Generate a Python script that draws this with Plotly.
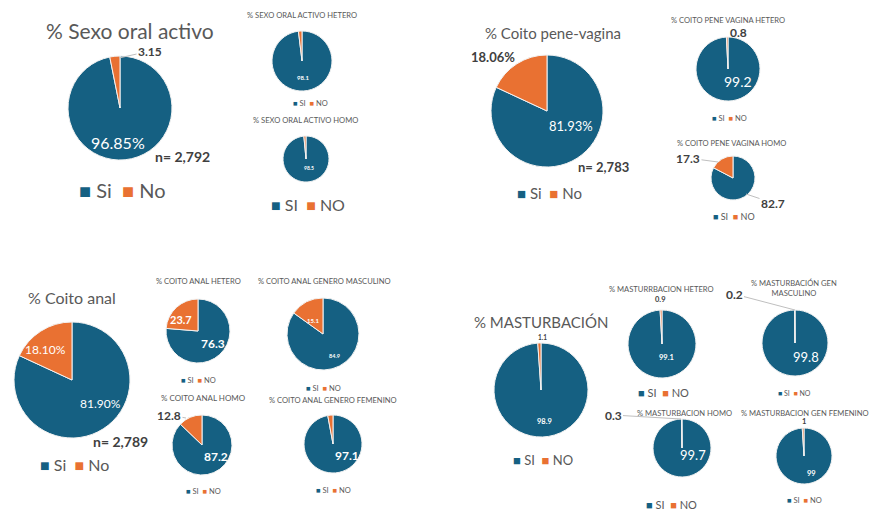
import plotly.graph_objects as go

W, H = 872, 510
BLUE = "#156082"
ORANGE = "#E97132"
GRAY = "#595959"
DARK = "#404040"
FONT = "Lato"
ST = 7.6  # small title size

# ---------------- data ----------------
lab_big = ["Si", "No"]
lab_caps = ["SI", "NO"]

sexo_oral = [96.85, 3.15]
sexo_oral_hetero = [98.1, 1.9]
sexo_oral_homo = [98.5, 1.5]
n_sexo_oral = 2792

coito_pv = [81.93, 18.06]
coito_pv_hetero = [99.2, 0.8]
coito_pv_homo = [82.7, 17.3]
n_coito_pv = 2783

coito_anal = [81.90, 18.10]
anal_hetero = [76.3, 23.7]
anal_masc = [84.9, 15.1]
anal_homo = [87.2, 12.8]
anal_fem = [97.1, 2.9]
n_coito_anal = 2789

mast = [98.9, 1.1]
mast_hetero = [99.1, 0.9]
mast_masc = [99.8, 0.2]
mast_homo = [99.7, 0.3]
mast_fem = [99.0, 1.0]

fig = go.Figure()
ann = []


def px(x):
    return x / W


def py(y):
    return 1 - y / H


def add_pie(values, labels, cx, cy, r):
    fig.add_trace(go.Pie(
        values=values, labels=labels, sort=False, direction="clockwise",
        rotation=0, textinfo="none", hoverinfo="label+value",
        marker=dict(colors=[BLUE, ORANGE], line=dict(color="#f2f2f2", width=1)),
        domain=dict(x=[px(cx - r), px(cx + r)], y=[py(cy + r), py(cy - r)]),
        showlegend=False,
    ))


def text(t, x, y, size, color=GRAY, bold=False, tip=None):
    if bold:
        t = "<b>" + t + "</b>"
    d = dict(text=t, xref="paper", yref="paper", xanchor="center",
             yanchor="middle", font=dict(size=size, color=color, family=FONT))
    if tip is None:
        d.update(x=px(x), y=py(y), showarrow=False)
    else:
        d.update(x=px(tip[0]), y=py(tip[1]), showarrow=True, arrowhead=0,
                 arrowwidth=1, arrowcolor="#bfbfbf", ax=x - tip[0], ay=y - tip[1],
                 standoff=0, startstandoff=0)
    ann.append(d)


def legend(labels, x, y, size):
    t = (f"<span style='color:{BLUE}'>■</span> {labels[0]}  "
         f"<span style='color:{ORANGE}'>■</span> {labels[1]}")
    text(t, x, y, size)


def fmt(v, pct=False, dec=None):
    s = f"{v:.{dec}f}" if dec is not None else f"{v:g}"
    return s + ("%" if pct else "")


# ---------------- panel 1: sexo oral activo ----------------
text("% Sexo oral activo", 130, 30, 21)
add_pie(sexo_oral, lab_big, 120, 108, 52)
text(fmt(sexo_oral[1], dec=2), 150, 51, 12, DARK, True, tip=(119, 58))
text(fmt(sexo_oral[0], True, 2), 118, 142, 16, "white")
text(f"n= {n_sexo_oral:,}", 182, 156, 14, DARK, True)
legend(lab_big, 122, 190, 20)

text("% SEXO ORAL ACTIVO HETERO", 302, 15, ST)
add_pie(sexo_oral_hetero, lab_caps, 302, 61, 30)
text(fmt(sexo_oral_hetero[0]), 303, 77, 6, "white", True)
legend(lab_caps, 310, 104, 7.5)

text("% SEXO ORAL ACTIVO HOMO", 305, 120, ST)
add_pie(sexo_oral_homo, lab_caps, 306, 159, 23)
text(fmt(sexo_oral_homo[0]), 309, 168, 5, "white", True)
legend(lab_caps, 308, 204, 16)

# ---------------- panel 2: coito pene-vagina ----------------
text("% Coito pene-vagina", 553, 33, 15)
add_pie(coito_pv, lab_big, 547, 111, 56)
text(fmt(coito_pv[1], True, 2), 493, 57, 13, DARK, True)
text(fmt(coito_pv[0], True, 2), 571, 126, 13, "white")
text(f"n= {n_coito_pv:,}", 603, 167, 13, DARK, True)
legend(lab_big, 549, 193, 15)

text("% COITO PENE VAGINA HETERO", 728, 20, ST)
add_pie(coito_pv_hetero, lab_caps, 728, 69, 32)
text(fmt(coito_pv_hetero[1]), 738, 32, 12, DARK, True)
text(fmt(coito_pv_hetero[0]), 738, 81, 14, "white")
legend(lab_caps, 729, 118, 7.5)

text("% COITO PENE VAGINA HOMO", 731, 143, ST)
add_pie(coito_pv_homo, lab_caps, 733, 178, 22)
text(fmt(coito_pv_homo[1]), 688, 158, 12, DARK, True, tip=(718, 162))
text(fmt(coito_pv_homo[0]), 773, 203, 12, DARK, True, tip=(746, 194))
legend(lab_caps, 734, 216, 9)

# ---------------- panel 3: coito anal ----------------
text("% Coito anal", 72, 297, 16)
add_pie(coito_anal, lab_big, 72, 380, 58)
text(fmt(coito_anal[1], True, 2), 45, 349, 12, "white")
text(fmt(coito_anal[0], True, 2), 100, 403, 12, "white")
text(f"n= {n_coito_anal:,}", 120, 441, 14, DARK, True)
legend(lab_big, 74, 464, 16)

text("% COITO ANAL HETERO", 198, 281, ST)
add_pie(anal_hetero, lab_caps, 198, 331, 32)
text(fmt(anal_hetero[1]), 181, 319, 11, "white", True)
text(fmt(anal_hetero[0]), 213, 343, 12, "white", True)
legend(lab_caps, 198, 380, 7.5)

text("% COITO ANAL GENERO MASCULINO", 324, 281, ST)
add_pie(anal_masc, lab_caps, 323, 334, 36)
text(fmt(anal_masc[1]), 313, 320, 6, "white", True)
text(fmt(anal_masc[0]), 334, 356, 5.5, "white", True)
legend(lab_caps, 323, 388, 7.5)

text("% COITO ANAL HOMO", 203, 398, 8)
add_pie(anal_homo, lab_caps, 202, 445, 30)
text(fmt(anal_homo[1]), 169, 415, 12, DARK, True, tip=(186, 418))
text(fmt(anal_homo[0]), 216, 456, 12, "white", True)
legend(lab_caps, 203, 491, 7.5)

text("% COITO ANAL GENERO FEMENINO", 333, 400, ST)
add_pie(anal_fem, lab_caps, 333, 444, 29)
text(fmt(anal_fem[0]), 347, 455, 12, "white", True)
legend(lab_caps, 333, 490, 7.5)

# ---------------- panel 4: masturbacion ----------------
text("% MASTURBACIÓN", 541, 322, 15)
add_pie(mast, lab_caps, 541, 390, 47)
text(fmt(mast[1]), 542, 337, 6.5, DARK, True)
text(fmt(mast[0]), 544, 421, 7.5, "white", True)
legend(lab_caps, 543, 460, 13)

text("% MASTURRBACION HETERO", 661, 289, ST)
add_pie(mast_hetero, lab_caps, 662, 344, 34)
text(fmt(mast_hetero[1]), 660, 299, 7.5, DARK, True)
text(fmt(mast_hetero[0]), 666, 357, 7.5, "white", True)
legend(lab_caps, 663, 392, 11)

text("% MASTURBACIÓN GEN<br>MASCULINO", 794, 288, ST)
add_pie(mast_masc, lab_caps, 795, 343, 33)
text(fmt(mast_masc[1]), 734, 294, 12, DARK, True, tip=(795, 310))
text(fmt(mast_masc[0]), 806, 357, 13, "white")
legend(lab_caps, 794, 393, 7)

text("% MASTURBACION HOMO", 684, 413, ST)
add_pie(mast_homo, lab_caps, 682, 448, 29)
text(fmt(mast_homo[1]), 613, 415, 12, DARK, True, tip=(681, 419))
text(fmt(mast_homo[0]), 693, 455, 13, "white")
legend(lab_caps, 671, 504, 11)

text("% MASTURBACION GEN FEMENINO", 805, 413, ST)
add_pie(mast_fem, lab_caps, 804, 456, 28)
text(fmt(mast_fem[1]), 804, 421, 7.5, DARK, True)
text(fmt(mast_fem[0]), 811, 473, 7.5, "white", True)
legend(lab_caps, 804, 500, 7.5)

fig.update_layout(
    width=W, height=H, margin=dict(l=0, r=0, t=0, b=0),
    paper_bgcolor="white", plot_bgcolor="white",
    annotations=ann, showlegend=False, font=dict(family=FONT),
)
fig.write_html(
    "out.html",
    config={"displayModeBar": False},
    post_script="document.body.style.margin='0';document.body.style.overflow='hidden';",
)
